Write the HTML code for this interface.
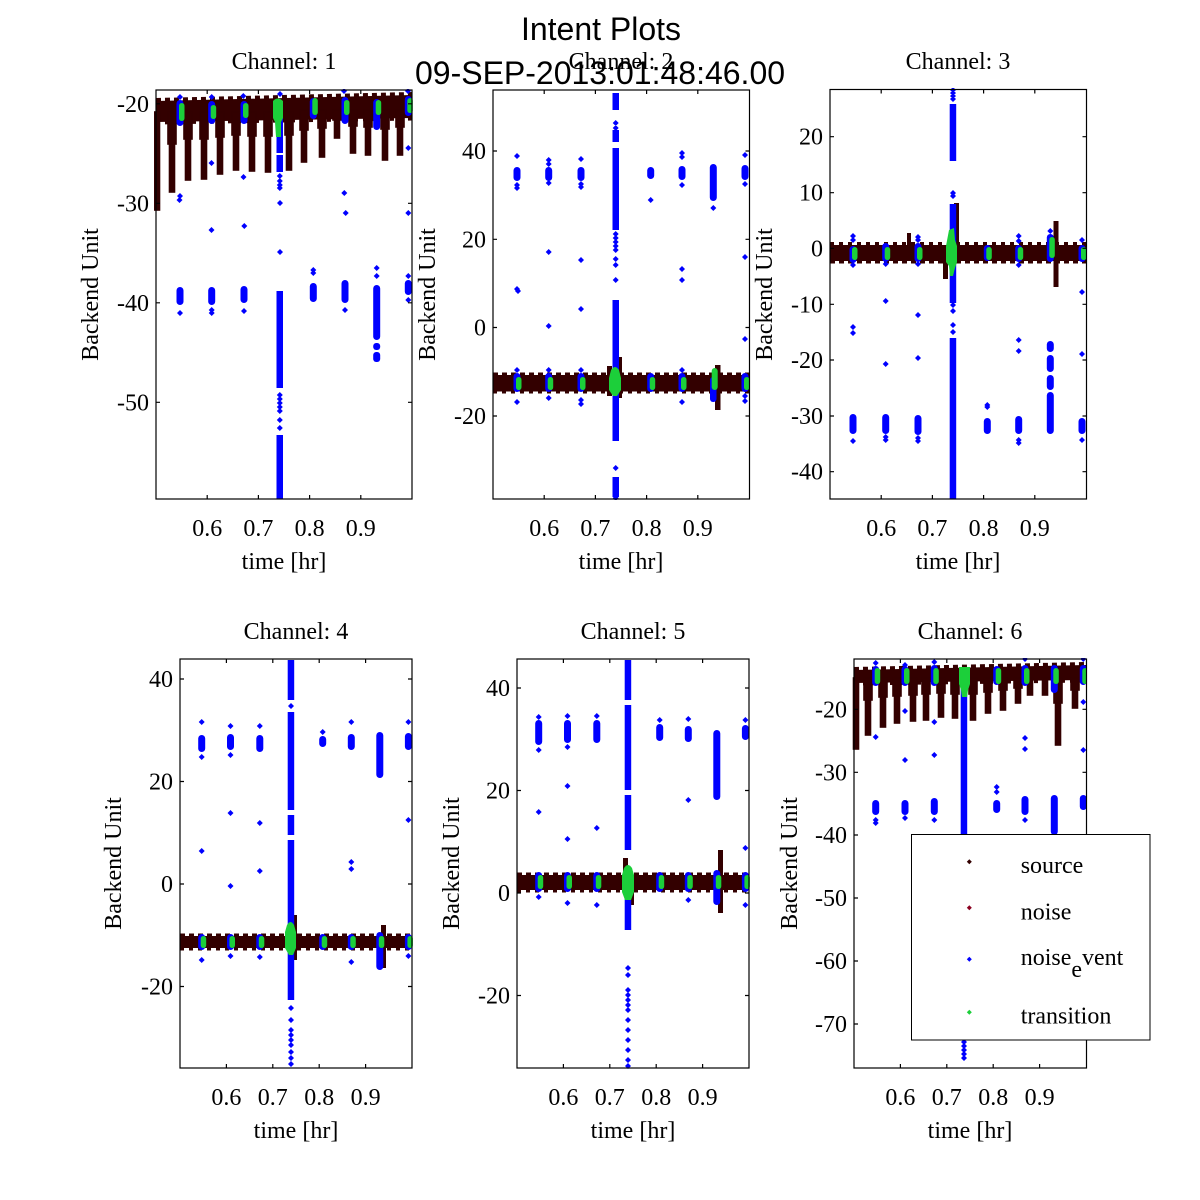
<!DOCTYPE html>
<html><head><meta charset="utf-8"><style>
html,body{margin:0;padding:0;background:#fff;}
svg{display:block;}
.t{font-family:"Liberation Serif",serif;font-size:24px;fill:#000;}
.h{font-family:"Liberation Sans",sans-serif;font-size:32px;fill:#000;}
.br{fill:#330000;}
.bl{fill:#0000ff;}
.gr{fill:#1ccf3a;}
.ax{fill:none;stroke:#000;stroke-width:1.2;}
.sp{fill:#330000;stroke:#330000;stroke-width:1.6;}
</style></head><body>
<svg width="1200" height="1200" viewBox="0 0 1200 1200" xmlns="http://www.w3.org/2000/svg">
<rect width="1200" height="1200" fill="#fff"/>
<defs>
<clipPath id="c1"><rect x="154" y="89" width="260" height="411"/></clipPath>
<clipPath id="c2"><rect x="492" y="88" width="259" height="412"/></clipPath>
<clipPath id="c3"><rect x="829" y="88" width="259" height="412"/></clipPath>
<clipPath id="c4"><rect x="178" y="658" width="235" height="411"/></clipPath>
<clipPath id="c5"><rect x="516" y="658" width="234" height="411"/></clipPath>
<clipPath id="c6"><rect x="852" y="658" width="235" height="411"/></clipPath>
</defs>

<!-- ================= PANEL 1 ================= -->
<g clip-path="url(#c1)">
<polygon class="br" points="156,101 412,95 412,118 156,122"/>
<line x1="156" y1="100" x2="412" y2="94" stroke="#330000" stroke-width="4" stroke-dasharray="5 4"/>
<line x1="156" y1="123" x2="412" y2="119" stroke="#330000" stroke-width="3" stroke-dasharray="4 5"/>
<g class="sp">
<rect x="154.5" y="112" width="5" height="98"/>
<rect x="169.5" y="112" width="5" height="80"/><rect x="168" y="112" width="8" height="32"/>
<rect x="185.5" y="112" width="5" height="68"/><rect x="184" y="112" width="8" height="27"/>
<rect x="201.5" y="112" width="5" height="67"/><rect x="200" y="112" width="8" height="27"/>
<rect x="217.5" y="112" width="5" height="62"/><rect x="216" y="112" width="8" height="25"/>
<rect x="233.5" y="112" width="5" height="58"/><rect x="232" y="112" width="8" height="23"/>
<rect x="249.5" y="112" width="5" height="59"/><rect x="248" y="112" width="8" height="24"/>
<rect x="265.5" y="112" width="5" height="60"/><rect x="264" y="112" width="8" height="24"/>
<rect x="286.5" y="112" width="5" height="58"/><rect x="285" y="112" width="8" height="23"/>
<rect x="301.5" y="110" width="5" height="52"/><rect x="300" y="110" width="8" height="20"/>
<rect x="319.5" y="110" width="5" height="47"/><rect x="318" y="110" width="8" height="18"/>
<rect x="334.5" y="110" width="5" height="28"/><rect x="333" y="110" width="8" height="10"/>
<rect x="350.5" y="110" width="5" height="43"/><rect x="349" y="110" width="8" height="16"/>
<rect x="365.5" y="110" width="5" height="45"/><rect x="364" y="110" width="8" height="17"/>
<rect x="382.5" y="110" width="5" height="50"/><rect x="381" y="110" width="8" height="19"/>
<rect x="397.5" y="110" width="5" height="45"/><rect x="396" y="110" width="8" height="17"/>
</g>
<g class="bl">
<rect x="176.5" y="100" width="7" height="26" rx="3.5"/>
<rect x="208.2" y="101" width="7" height="23" rx="3.5"/>
<rect x="240.5" y="101" width="7" height="23" rx="3.5"/>
<rect x="309.8" y="98" width="7" height="21" rx="3.5"/>
<rect x="341.5" y="97" width="7" height="27" rx="3.5"/>
<rect x="373.2" y="99" width="7" height="31" rx="3.5"/>
<rect x="404.8" y="96" width="7" height="20" rx="3.5"/>
<rect x="276.5" y="103" width="6.5" height="50"/>
<rect x="276.5" y="155" width="6.5" height="17"/>
<rect x="276.5" y="291" width="6.5" height="97"/>
<rect x="276.5" y="435" width="6.5" height="64"/>
<rect x="176.5" y="287" width="7" height="18" rx="3.5"/>
<rect x="208.2" y="287" width="7" height="18" rx="3.5"/>
<rect x="240.5" y="286" width="7" height="17" rx="3.5"/>
<rect x="309.8" y="283" width="7" height="19" rx="3.5"/>
<rect x="341.5" y="280" width="7" height="23" rx="3.5"/>
<rect x="373.2" y="285" width="7" height="55" rx="3.5"/>
<rect x="373.2" y="343" width="7" height="7" rx="3"/>
<rect x="373.2" y="352" width="7" height="10" rx="3"/>
<rect x="404.8" y="280" width="7" height="15" rx="3.5"/>
<path d="M177,97l3,-3 3,3 -3,3zM208.7,97l3,-3 3,3 -3,3zM240.3,96l3,-3 3,3 -3,3zM277,94l3,-3 3,3 -3,3zM341,91l3,-3 3,3 -3,3zM405,91l3,-3 3,3 -3,3zM177,196l3,-3 3,3 -3,3zM176.5,200l3,-3 3,3 -3,3zM208.5,163l3,-3 3,3 -3,3zM208.5,230l3,-3 3,3 -3,3zM240.5,177l3,-3 3,3 -3,3zM241.3,226l3,-3 3,3 -3,3zM277,203l3,-3 3,3 -3,3zM277,252l3,-3 3,3 -3,3zM310.3,270l3,-3 3,3 -3,3zM310.3,273l3,-3 3,3 -3,3zM341.3,193l3,-3 3,3 -3,3zM342.7,213l3,-3 3,3 -3,3zM373.7,268l3,-3 3,3 -3,3zM373.7,276l3,-3 3,3 -3,3zM405.3,148l3,-3 3,3 -3,3zM405.3,213l3,-3 3,3 -3,3zM405.3,276l3,-3 3,3 -3,3zM177,313l3,-3 3,3 -3,3zM208.7,310l3,-3 3,3 -3,3zM208.7,313l3,-3 3,3 -3,3zM241,311l3,-3 3,3 -3,3zM342,310l3,-3 3,3 -3,3zM405.3,300l3,-3 3,3 -3,3zM276.8,176l3,-3 3,3 -3,3zM276.8,181l3,-3 3,3 -3,3zM276.8,185l3,-3 3,3 -3,3zM276.8,188l3,-3 3,3 -3,3zM276.8,395l3,-3 3,3 -3,3zM276.8,399l3,-3 3,3 -3,3zM276.8,403l3,-3 3,3 -3,3zM276.8,407l3,-3 3,3 -3,3zM276.8,411l3,-3 3,3 -3,3zM276.8,420l3,-3 3,3 -3,3zM276.8,428l3,-3 3,3 -3,3z"/>
</g>
<g class="gr">
<rect x="179" y="103" width="5.5" height="18" rx="2.75"/>
<rect x="210.7" y="105" width="5.5" height="14" rx="2.75"/>
<rect x="243" y="103" width="5.5" height="15" rx="2.75"/>
<rect x="312.3" y="98" width="5.5" height="17" rx="2.75"/>
<rect x="344" y="100" width="5.5" height="15" rx="2.75"/>
<rect x="375.7" y="100" width="5.5" height="15" rx="2.75"/>
<rect x="407.3" y="98" width="5.5" height="15" rx="2.75"/>
<path d="M273,101 Q277.5,96 283,101 L283,118 L281,122 L281,137 L276,137 L275,122 L273,118 Z"/>
</g>
</g>
<rect class="ax" x="156" y="90" width="256" height="409"/>
<path class="ax" d="M207.2,499v-4M258.4,499v-4M309.6,499v-4M360.8,499v-4M207.2,90v4M258.4,90v4M309.6,90v4M360.8,90v4M156,103.8h4M156,203.3h4M156,302.8h4M156,402.3h4M412,103.8h-4M412,203.3h-4M412,302.8h-4M412,402.3h-4"/>
<g class="t" text-anchor="end">
<text x="149" y="111.8">-20</text><text x="149" y="211.3">-30</text><text x="149" y="310.8">-40</text><text x="149" y="410.3">-50</text>
</g>
<g class="t" text-anchor="middle">
<text x="207.2" y="536">0.6</text><text x="258.4" y="536">0.7</text><text x="309.6" y="536">0.8</text><text x="360.8" y="536">0.9</text>
<text x="284" y="569">time [hr]</text>
<text x="284" y="69">Channel: 1</text>
<text transform="translate(98,294.5) rotate(-90)">Backend Unit</text>
</g>

<!-- ================= PANEL 2 ================= -->
<g clip-path="url(#c2)">
<rect class="br" x="493" y="375" width="257" height="16.5"/>
<line x1="493" y1="374" x2="750" y2="374" stroke="#330000" stroke-width="3" stroke-dasharray="5 4"/>
<line x1="493" y1="392" x2="750" y2="392" stroke="#330000" stroke-width="3" stroke-dasharray="4 5"/>
<g class="br">
<rect x="607" y="366" width="5" height="30"/>
<rect x="617" y="357" width="5" height="41"/>
<rect x="715" y="365" width="5.5" height="45"/>
</g>
<g class="bl">
<rect x="513.5" y="373" width="7" height="19" rx="3.5"/>
<rect x="545.2" y="373" width="7" height="19" rx="3.5"/>
<rect x="577.5" y="373" width="7" height="19" rx="3.5"/>
<rect x="647.2" y="373" width="7" height="19" rx="3.5"/>
<rect x="678.5" y="373" width="7" height="19" rx="3.5"/>
<rect x="741.5" y="373" width="7" height="19" rx="3.5"/>
<rect x="710" y="377" width="6.5" height="25" rx="3"/>
<rect x="513.5" y="167" width="7" height="14" rx="3.5"/>
<rect x="545.2" y="167" width="7" height="14" rx="3.5"/>
<rect x="577.5" y="167" width="7" height="14" rx="3.5"/>
<rect x="647.2" y="167" width="7" height="12" rx="3.5"/>
<rect x="678.5" y="166" width="7" height="14" rx="3.5"/>
<rect x="709.8" y="164" width="7" height="37" rx="3.5"/>
<rect x="741.5" y="165" width="7" height="15" rx="3.5"/>
<rect x="612.5" y="93" width="6.5" height="17"/>
<rect x="612.5" y="130" width="6.5" height="12"/>
<rect x="612.5" y="148" width="6.5" height="82"/>
<rect x="612.5" y="300" width="6.5" height="141"/>
<rect x="612.5" y="477" width="6.5" height="20"/>
<path d="M514,156l3,-3 3,3 -3,3zM514,185l3,-3 3,3 -3,3zM514,188l3,-3 3,3 -3,3zM545.7,160l3,-3 3,3 -3,3zM545.7,164l3,-3 3,3 -3,3zM545.7,183l3,-3 3,3 -3,3zM578,159l3,-3 3,3 -3,3zM578,184l3,-3 3,3 -3,3zM578,187l3,-3 3,3 -3,3zM647.7,200l3,-3 3,3 -3,3zM679,153l3,-3 3,3 -3,3zM679,157l3,-3 3,3 -3,3zM679,185l3,-3 3,3 -3,3zM710.3,208l3,-3 3,3 -3,3zM742,155l3,-3 3,3 -3,3zM742,184l3,-3 3,3 -3,3zM514,289l3,-3 3,3 -3,3zM515,291l3,-3 3,3 -3,3zM545.7,252l3,-3 3,3 -3,3zM545.7,326l3,-3 3,3 -3,3zM578,260l3,-3 3,3 -3,3zM578,309l3,-3 3,3 -3,3zM679,269l3,-3 3,3 -3,3zM679,280l3,-3 3,3 -3,3zM742,257l3,-3 3,3 -3,3zM742,339l3,-3 3,3 -3,3zM514,402l3,-3 3,3 -3,3zM545.7,398l3,-3 3,3 -3,3zM578,400l3,-3 3,3 -3,3zM578,404l3,-3 3,3 -3,3zM679,402l3,-3 3,3 -3,3zM742,396l3,-3 3,3 -3,3zM742,401l3,-3 3,3 -3,3zM514,370l3,-3 3,3 -3,3zM545.7,370l3,-3 3,3 -3,3zM578,370l3,-3 3,3 -3,3zM679,370l3,-3 3,3 -3,3zM612.7,123l3,-3 3,3 -3,3zM612.7,128l3,-3 3,3 -3,3zM612.7,234l3,-3 3,3 -3,3zM612.7,238l3,-3 3,3 -3,3zM612.7,242l3,-3 3,3 -3,3zM612.7,246l3,-3 3,3 -3,3zM612.7,250l3,-3 3,3 -3,3zM612.7,259l3,-3 3,3 -3,3zM612.7,265l3,-3 3,3 -3,3zM612.7,280l3,-3 3,3 -3,3zM612.7,468l3,-3 3,3 -3,3zM612.7,498l3,-3 3,3 -3,3z"/>
</g>
<g class="gr">
<rect x="516" y="377" width="5.5" height="13" rx="2.75"/>
<rect x="547.7" y="377" width="5.5" height="13" rx="2.75"/>
<rect x="580" y="377" width="5.5" height="13" rx="2.75"/>
<rect x="649.7" y="377" width="5.5" height="13" rx="2.75"/>
<rect x="681" y="377" width="5.5" height="13" rx="2.75"/>
<rect x="744" y="377" width="5.5" height="13" rx="2.75"/>
<rect x="711.7" y="368" width="6" height="22" rx="3"/>
<path d="M611,370 Q615,364 619,370 L621,378 L621,390 L617,396 L613,396 L609,390 L609,378 Z"/>
</g>
</g>
<rect class="ax" x="493" y="90" width="256.5" height="409"/>
<path class="ax" d="M544.2,499v-4M595.4,499v-4M646.6,499v-4M697.8,499v-4M544.2,90v4M595.4,90v4M646.6,90v4M697.8,90v4M493,151h4M493,239.3h4M493,327.5h4M493,416h4M749.5,151h-4M749.5,239.3h-4M749.5,327.5h-4M749.5,416h-4"/>
<g class="t" text-anchor="end">
<text x="486" y="159">40</text><text x="486" y="247.3">20</text><text x="486" y="335.5">0</text><text x="486" y="424">-20</text>
</g>
<g class="t" text-anchor="middle">
<text x="544.2" y="536">0.6</text><text x="595.4" y="536">0.7</text><text x="646.6" y="536">0.8</text><text x="697.8" y="536">0.9</text>
<text x="621" y="569">time [hr]</text>
<text x="621" y="69">Channel: 2</text>
<text transform="translate(435,294.5) rotate(-90)">Backend Unit</text>
</g>

<!-- ================= PANEL 3 ================= -->
<g clip-path="url(#c3)">
<rect class="br" x="830" y="245" width="257" height="16"/>
<line x1="830" y1="244" x2="1087" y2="244" stroke="#330000" stroke-width="4" stroke-dasharray="4 5"/>
<line x1="830" y1="262" x2="1087" y2="262" stroke="#330000" stroke-width="3" stroke-dasharray="5 4"/>
<g class="br">
<rect x="954" y="203" width="5" height="45"/>
<rect x="943" y="255" width="5" height="24"/>
<rect x="907" y="233" width="4" height="12"/>
<rect x="1053.5" y="221" width="5" height="66"/>
</g>
<g class="bl">
<rect x="849.5" y="246" width="7" height="17" rx="3.5"/>
<rect x="882.2" y="243" width="7" height="19" rx="3.5"/>
<rect x="914.5" y="243" width="7" height="19" rx="3.5"/>
<rect x="983.8" y="245" width="7" height="16" rx="3.5"/>
<rect x="1015.2" y="245" width="7" height="17" rx="3.5"/>
<rect x="1046.8" y="234" width="7" height="28" rx="3.5"/>
<rect x="1078.5" y="245" width="7" height="17" rx="3.5"/>
<rect x="849.5" y="414" width="7" height="20" rx="3.5"/>
<rect x="882.2" y="414" width="7" height="20" rx="3.5"/>
<rect x="914.5" y="415" width="7" height="20" rx="3.5"/>
<rect x="983.8" y="418" width="7" height="16" rx="3.5"/>
<rect x="1015.2" y="416" width="7" height="18" rx="3.5"/>
<rect x="1046.8" y="341" width="7" height="11" rx="3.5"/>
<rect x="1046.8" y="355" width="7" height="17" rx="3.5"/>
<rect x="1046.8" y="375" width="7" height="15" rx="3.5"/>
<rect x="1046.8" y="392" width="7" height="42" rx="3.5"/>
<rect x="1078.5" y="418" width="7" height="16" rx="3.5"/>
<rect x="949.7" y="104" width="6.5" height="57"/>
<rect x="949.7" y="204" width="6.5" height="99"/>
<rect x="949.7" y="338" width="6.5" height="161"/>
<path d="M850,236l3,-3 3,3 -3,3zM850,240l3,-3 3,3 -3,3zM915,237l3,-3 3,3 -3,3zM915,240l3,-3 3,3 -3,3zM1015.7,236l3,-3 3,3 -3,3zM1015.7,241l3,-3 3,3 -3,3zM1047.3,231l3,-3 3,3 -3,3zM1079,240l3,-3 3,3 -3,3zM850,265l3,-3 3,3 -3,3zM882.7,264l3,-3 3,3 -3,3zM915,264l3,-3 3,3 -3,3zM1015.7,265l3,-3 3,3 -3,3zM850,327l3,-3 3,3 -3,3zM850,333l3,-3 3,3 -3,3zM882.7,301l3,-3 3,3 -3,3zM882.7,364l3,-3 3,3 -3,3zM915,315l3,-3 3,3 -3,3zM915,358l3,-3 3,3 -3,3zM1015.7,340l3,-3 3,3 -3,3zM1015.7,351l3,-3 3,3 -3,3zM1079,292l3,-3 3,3 -3,3zM1079,354l3,-3 3,3 -3,3zM850,441l3,-3 3,3 -3,3zM882.7,437l3,-3 3,3 -3,3zM882.7,440l3,-3 3,3 -3,3zM915,438l3,-3 3,3 -3,3zM915,441l3,-3 3,3 -3,3zM984.3,405l3,-3 3,3 -3,3zM984.3,407l3,-3 3,3 -3,3zM1015.7,440l3,-3 3,3 -3,3zM1015.7,443l3,-3 3,3 -3,3zM1079,440l3,-3 3,3 -3,3zM950,90l3,-3 3,3 -3,3zM950,93l3,-3 3,3 -3,3zM950,96l3,-3 3,3 -3,3zM950,99l3,-3 3,3 -3,3zM950,193l3,-3 3,3 -3,3zM950,196l3,-3 3,3 -3,3zM950,305l3,-3 3,3 -3,3zM950,311l3,-3 3,3 -3,3zM950,325l3,-3 3,3 -3,3zM950,332l3,-3 3,3 -3,3z"/>
</g>
<g class="gr">
<rect x="852" y="247" width="5.5" height="13" rx="2.75"/>
<rect x="884.7" y="247" width="5.5" height="13" rx="2.75"/>
<rect x="917" y="247" width="5.5" height="13" rx="2.75"/>
<rect x="986.3" y="247" width="5.5" height="13" rx="2.75"/>
<rect x="1017.7" y="247" width="5.5" height="13" rx="2.75"/>
<rect x="1049.3" y="237" width="5.5" height="21" rx="2.75"/>
<rect x="1081" y="247" width="5.5" height="13" rx="2.75"/>
<path d="M949,230 L954,228 L955,240 L957,246 L957,262 L955,268 L953,276 L950,276 L949,266 L946,262 L946,246 Z"/>
</g>
</g>
<rect class="ax" x="830" y="89.5" width="256.5" height="409.5"/>
<path class="ax" d="M881.2,499v-4M932.4,499v-4M983.6,499v-4M1034.8,499v-4M881.2,89.5v4M932.4,89.5v4M983.6,89.5v4M1034.8,89.5v4M830,136.7h4M830,192.7h4M830,248.3h4M830,304.3h4M830,360h4M830,416h4M830,471.7h4M1086.5,136.7h-4M1086.5,192.7h-4M1086.5,248.3h-4M1086.5,304.3h-4M1086.5,360h-4M1086.5,416h-4M1086.5,471.7h-4"/>
<g class="t" text-anchor="end">
<text x="823" y="144.7">20</text><text x="823" y="200.7">10</text><text x="823" y="256.3">0</text><text x="823" y="312.3">-10</text><text x="823" y="368">-20</text><text x="823" y="424">-30</text><text x="823" y="479.7">-40</text>
</g>
<g class="t" text-anchor="middle">
<text x="881.2" y="536">0.6</text><text x="932.4" y="536">0.7</text><text x="983.6" y="536">0.8</text><text x="1034.8" y="536">0.9</text>
<text x="958" y="569">time [hr]</text>
<text x="958" y="69">Channel: 3</text>
<text transform="translate(772,294.5) rotate(-90)">Backend Unit</text>
</g>

<!-- ================= PANEL 4 ================= -->
<g clip-path="url(#c4)">
<rect class="br" x="180" y="936" width="232" height="12"/>
<line x1="180" y1="935" x2="412" y2="935" stroke="#330000" stroke-width="3" stroke-dasharray="5 4"/>
<line x1="180" y1="949" x2="412" y2="949" stroke="#330000" stroke-width="3" stroke-dasharray="4 5"/>
<g class="br">
<rect x="292" y="915" width="5" height="45"/>
<rect x="381" y="925" width="5" height="43"/>
</g>
<g class="bl">
<rect x="198.2" y="934" width="7" height="16" rx="3.5"/>
<rect x="227" y="934" width="7" height="16" rx="3.5"/>
<rect x="256.3" y="934" width="7" height="16" rx="3.5"/>
<rect x="319.2" y="934" width="7" height="16" rx="3.5"/>
<rect x="347.8" y="934" width="7" height="16" rx="3.5"/>
<rect x="404.9" y="934" width="7" height="16" rx="3.5"/>
<rect x="376.3" y="932" width="7" height="38" rx="3.5"/>
<rect x="198.2" y="735" width="7" height="17" rx="3.5"/>
<rect x="227" y="734" width="7" height="16" rx="3.5"/>
<rect x="256.3" y="735" width="7" height="17" rx="3.5"/>
<rect x="319.2" y="736" width="7" height="11" rx="3.5"/>
<rect x="347.8" y="734" width="7" height="16" rx="3.5"/>
<rect x="376.3" y="732" width="7" height="46" rx="3.5"/>
<rect x="404.9" y="733" width="7" height="17" rx="3.5"/>
<rect x="287.7" y="660" width="6.5" height="40"/>
<rect x="287.7" y="712" width="6.5" height="98"/>
<rect x="287.7" y="815" width="6.5" height="20"/>
<rect x="287.7" y="840" width="6.5" height="160"/>
<path d="M198.7,722l3,-3 3,3 -3,3zM227.5,726l3,-3 3,3 -3,3zM256.8,726l3,-3 3,3 -3,3zM319.7,732l3,-3 3,3 -3,3zM348.3,722l3,-3 3,3 -3,3zM405.4,722l3,-3 3,3 -3,3zM198.7,757l3,-3 3,3 -3,3zM227.5,755l3,-3 3,3 -3,3zM198.7,851l3,-3 3,3 -3,3zM227.5,813l3,-3 3,3 -3,3zM227.5,886l3,-3 3,3 -3,3zM256.8,823l3,-3 3,3 -3,3zM256.8,871l3,-3 3,3 -3,3zM348.3,862l3,-3 3,3 -3,3zM348.3,869l3,-3 3,3 -3,3zM405.4,820l3,-3 3,3 -3,3zM198.7,960l3,-3 3,3 -3,3zM227.5,956l3,-3 3,3 -3,3zM256.8,957l3,-3 3,3 -3,3zM348.3,962l3,-3 3,3 -3,3zM405.4,956l3,-3 3,3 -3,3zM288,706l3,-3 3,3 -3,3zM288,1008l3,-3 3,3 -3,3zM288,1020l3,-3 3,3 -3,3zM288,1030l3,-3 3,3 -3,3zM288,1035l3,-3 3,3 -3,3zM288,1040l3,-3 3,3 -3,3zM288,1045l3,-3 3,3 -3,3zM288,1052l3,-3 3,3 -3,3zM288,1058l3,-3 3,3 -3,3zM288,1064l3,-3 3,3 -3,3z"/>
</g>
<g class="gr">
<rect x="200.7" y="936" width="5.5" height="12" rx="2.75"/>
<rect x="229.5" y="936" width="5.5" height="12" rx="2.75"/>
<rect x="258.8" y="936" width="5.5" height="12" rx="2.75"/>
<rect x="321.7" y="936" width="5.5" height="12" rx="2.75"/>
<rect x="350.3" y="936" width="5.5" height="12" rx="2.75"/>
<rect x="378.8" y="936" width="5.5" height="12" rx="2.75"/>
<rect x="407.4" y="936" width="5.5" height="12" rx="2.75"/>
<path d="M287,925 Q290.5,919 294,925 L296,932 L296,948 L293,955 L289,955 L285,948 L285,932 Z"/>
</g>
</g>
<rect class="ax" x="180" y="659" width="232" height="409"/>
<path class="ax" d="M226.4,1068v-4M272.8,1068v-4M319.2,1068v-4M365.6,1068v-4M226.4,659v4M272.8,659v4M319.2,659v4M365.6,659v4M180,679h4M180,781.5h4M180,884h4M180,986.5h4M412,679h-4M412,781.5h-4M412,884h-4M412,986.5h-4"/>
<g class="t" text-anchor="end">
<text x="173" y="687">40</text><text x="173" y="789.5">20</text><text x="173" y="892">0</text><text x="173" y="994.5">-20</text>
</g>
<g class="t" text-anchor="middle">
<text x="226.4" y="1105">0.6</text><text x="272.8" y="1105">0.7</text><text x="319.2" y="1105">0.8</text><text x="365.6" y="1105">0.9</text>
<text x="296" y="1138">time [hr]</text>
<text x="296" y="639">Channel: 4</text>
<text transform="translate(121,863.5) rotate(-90)">Backend Unit</text>
</g>

<!-- ================= PANEL 5 ================= -->
<g clip-path="url(#c5)">
<rect class="br" x="517" y="875" width="232" height="15"/>
<line x1="517" y1="874" x2="749" y2="874" stroke="#330000" stroke-width="3" stroke-dasharray="5 4"/>
<line x1="517" y1="891" x2="749" y2="891" stroke="#330000" stroke-width="3" stroke-dasharray="4 5"/>
<g class="br">
<rect x="623" y="858" width="5" height="30"/>
<rect x="629" y="878" width="5" height="27"/>
<rect x="718" y="850" width="5" height="63"/>
</g>
<g class="bl">
<rect x="535.2" y="872" width="7" height="20" rx="3.5"/>
<rect x="564" y="872" width="7" height="20" rx="3.5"/>
<rect x="593.3" y="872" width="7" height="20" rx="3.5"/>
<rect x="656.2" y="872" width="7" height="20" rx="3.5"/>
<rect x="684.8" y="872" width="7" height="20" rx="3.5"/>
<rect x="741.9" y="872" width="7" height="20" rx="3.5"/>
<rect x="713.3" y="870" width="7" height="35" rx="3.5"/>
<rect x="535.2" y="720" width="7" height="25" rx="3.5"/>
<rect x="564" y="720" width="7" height="23" rx="3.5"/>
<rect x="593.3" y="720" width="7" height="23" rx="3.5"/>
<rect x="656.2" y="724" width="7" height="17" rx="3.5"/>
<rect x="684.8" y="726" width="7" height="16" rx="3.5"/>
<rect x="713.3" y="730" width="7" height="70" rx="3.5"/>
<rect x="741.9" y="725" width="7" height="15" rx="3.5"/>
<rect x="624.7" y="660" width="6.5" height="40"/>
<rect x="624.7" y="705" width="6.5" height="85"/>
<rect x="624.7" y="795" width="6.5" height="55"/>
<rect x="624.7" y="893" width="6.5" height="37"/>
<path d="M535.7,717l3,-3 3,3 -3,3zM564.5,716l3,-3 3,3 -3,3zM593.8,716l3,-3 3,3 -3,3zM656.7,720l3,-3 3,3 -3,3zM685.3,719l3,-3 3,3 -3,3zM742.4,720l3,-3 3,3 -3,3zM535.7,750l3,-3 3,3 -3,3zM564.5,747l3,-3 3,3 -3,3zM535.7,812l3,-3 3,3 -3,3zM564.5,786l3,-3 3,3 -3,3zM564.5,839l3,-3 3,3 -3,3zM593.8,828l3,-3 3,3 -3,3zM685.3,800l3,-3 3,3 -3,3zM742.4,848l3,-3 3,3 -3,3zM535.7,897l3,-3 3,3 -3,3zM564.5,903l3,-3 3,3 -3,3zM593.8,905l3,-3 3,3 -3,3zM685.3,900l3,-3 3,3 -3,3zM742.4,905l3,-3 3,3 -3,3zM625,968l3,-3 3,3 -3,3zM625,975l3,-3 3,3 -3,3zM625,990l3,-3 3,3 -3,3zM625,995l3,-3 3,3 -3,3zM625,1000l3,-3 3,3 -3,3zM625,1005l3,-3 3,3 -3,3zM625,1010l3,-3 3,3 -3,3zM625,1020l3,-3 3,3 -3,3zM625,1030l3,-3 3,3 -3,3zM625,1040l3,-3 3,3 -3,3zM625,1050l3,-3 3,3 -3,3zM625,1060l3,-3 3,3 -3,3zM625,1066l3,-3 3,3 -3,3z"/>
</g>
<g class="gr">
<rect x="537.7" y="875" width="5.5" height="14" rx="2.75"/>
<rect x="566.5" y="875" width="5.5" height="14" rx="2.75"/>
<rect x="595.8" y="875" width="5.5" height="14" rx="2.75"/>
<rect x="658.7" y="875" width="5.5" height="14" rx="2.75"/>
<rect x="687.3" y="875" width="5.5" height="14" rx="2.75"/>
<rect x="715.8" y="875" width="5.5" height="14" rx="2.75"/>
<rect x="744.4" y="875" width="5.5" height="14" rx="2.75"/>
<path d="M624,868 Q628,862 632,868 L634,875 L634,892 L631,900 L625,900 L622,892 L622,875 Z"/>
</g>
</g>
<rect class="ax" x="517" y="659" width="232" height="409"/>
<path class="ax" d="M563.4,1068v-4M609.8,1068v-4M656.2,1068v-4M702.6,1068v-4M563.4,659v4M609.8,659v4M656.2,659v4M702.6,659v4M517,688h4M517,790.5h4M517,893h4M517,995.5h4M749,688h-4M749,790.5h-4M749,893h-4M749,995.5h-4"/>
<g class="t" text-anchor="end">
<text x="510" y="696">40</text><text x="510" y="798.5">20</text><text x="510" y="901">0</text><text x="510" y="1003.5">-20</text>
</g>
<g class="t" text-anchor="middle">
<text x="563.4" y="1105">0.6</text><text x="609.8" y="1105">0.7</text><text x="656.2" y="1105">0.8</text><text x="702.6" y="1105">0.9</text>
<text x="633" y="1138">time [hr]</text>
<text x="633" y="639">Channel: 5</text>
<text transform="translate(459,863.5) rotate(-90)">Backend Unit</text>
</g>

<!-- ================= PANEL 6 ================= -->
<g clip-path="url(#c6)">
<polygon class="br" points="854,670 1086,665 1086,680 854,683"/>
<line x1="854" y1="669" x2="1086" y2="664" stroke="#330000" stroke-width="4" stroke-dasharray="5 4"/>
<line x1="854" y1="684" x2="1086" y2="681" stroke="#330000" stroke-width="3" stroke-dasharray="4 5"/>
<g class="sp">
<rect x="853.5" y="678" width="5" height="71"/>
<rect x="865.5" y="678" width="5" height="57"/><rect x="864" y="678" width="8" height="22"/>
<rect x="880.5" y="678" width="5" height="49"/><rect x="879" y="678" width="8" height="19"/>
<rect x="894.5" y="678" width="5" height="45"/><rect x="893" y="678" width="8" height="18"/>
<rect x="910.5" y="678" width="5" height="43"/><rect x="909" y="678" width="8" height="17"/>
<rect x="923.5" y="678" width="5" height="42"/><rect x="922" y="678" width="8" height="16"/>
<rect x="938.5" y="678" width="5" height="39"/><rect x="937" y="678" width="8" height="15"/>
<rect x="952.5" y="678" width="5" height="40"/><rect x="951" y="678" width="8" height="16"/>
<rect x="970.5" y="678" width="5" height="42"/><rect x="969" y="678" width="8" height="16"/>
<rect x="985.5" y="678" width="5" height="35"/><rect x="984" y="678" width="8" height="14"/>
<rect x="1000.5" y="678" width="5" height="32"/><rect x="999" y="678" width="8" height="12"/>
<rect x="1015.5" y="678" width="5" height="25"/><rect x="1014" y="678" width="8" height="10"/>
<rect x="1027.5" y="678" width="5" height="17"/>
<rect x="1042.5" y="678" width="5" height="17"/>
<rect x="1055.5" y="678" width="5" height="67"/><rect x="1054" y="678" width="8" height="25"/>
<rect x="1072.5" y="678" width="5" height="30"/><rect x="1071" y="678" width="8" height="12"/>
</g>
<g class="bl">
<rect x="872.2" y="666" width="7" height="20" rx="3.5"/>
<rect x="901.5" y="666" width="7" height="20" rx="3.5"/>
<rect x="930.8" y="665" width="7" height="21" rx="3.5"/>
<rect x="993.2" y="666" width="7" height="19" rx="3.5"/>
<rect x="1021.5" y="665" width="7" height="21" rx="3.5"/>
<rect x="1050.8" y="665" width="7" height="28" rx="3.5"/>
<rect x="1079.8" y="665" width="7" height="20" rx="3.5"/>
<rect x="960.7" y="683" width="6.5" height="151"/>
<rect x="872.2" y="800" width="7" height="15" rx="3.5"/>
<rect x="901.5" y="800" width="7" height="15" rx="3.5"/>
<rect x="930.8" y="798" width="7" height="17" rx="3.5"/>
<rect x="993.2" y="800" width="7" height="13" rx="3.5"/>
<rect x="1021.5" y="796" width="7" height="19" rx="3.5"/>
<rect x="1050.8" y="795" width="7" height="40" rx="3.5"/>
<rect x="1079.8" y="795" width="7" height="15" rx="3.5"/>
<path d="M872.7,663l3,-3 3,3 -3,3zM902,665l3,-3 3,3 -3,3zM931.3,662l3,-3 3,3 -3,3zM1022,659l3,-3 3,3 -3,3zM1080.3,659l3,-3 3,3 -3,3zM872.7,820l3,-3 3,3 -3,3zM872.7,823l3,-3 3,3 -3,3zM902,818l3,-3 3,3 -3,3zM931.3,820l3,-3 3,3 -3,3zM993.7,787l3,-3 3,3 -3,3zM993.7,792l3,-3 3,3 -3,3zM1022,820l3,-3 3,3 -3,3zM872.7,737l3,-3 3,3 -3,3zM902,711l3,-3 3,3 -3,3zM902,760l3,-3 3,3 -3,3zM931.3,722l3,-3 3,3 -3,3zM931.3,755l3,-3 3,3 -3,3zM1022,738l3,-3 3,3 -3,3zM1022,749l3,-3 3,3 -3,3zM1080.3,702l3,-3 3,3 -3,3zM1080.3,750l3,-3 3,3 -3,3zM961,1042l3,-3 3,3 -3,3zM961,1046l3,-3 3,3 -3,3zM961,1050l3,-3 3,3 -3,3zM961,1054l3,-3 3,3 -3,3zM961,1058l3,-3 3,3 -3,3z"/>
</g>
<g class="gr">
<rect x="874.7" y="668" width="5.5" height="16" rx="2.75"/>
<rect x="904" y="668" width="5.5" height="16" rx="2.75"/>
<rect x="933.3" y="668" width="5.5" height="16" rx="2.75"/>
<rect x="995.7" y="668" width="5.5" height="16" rx="2.75"/>
<rect x="1024" y="668" width="5.5" height="16" rx="2.75"/>
<rect x="1053.3" y="668" width="5.5" height="16" rx="2.75"/>
<rect x="1082.3" y="668" width="5.5" height="16" rx="2.75"/>
<path d="M959,667 L970,667 L970,684 L968,690 L967,697 L962,697 L961,690 L959,684 Z"/>
</g>
</g>
<rect class="ax" x="854" y="659" width="232.5" height="409"/>
<path class="ax" d="M900.4,1068v-4M946.8,1068v-4M993.2,1068v-4M1039.6,1068v-4M900.4,659v4M946.8,659v4M993.2,659v4M1039.6,659v4M854,709.3h4M854,772.3h4M854,835h4M854,898h4M854,961h4M854,1024h4M1086.5,709.3h-4M1086.5,772.3h-4M1086.5,835h-4M1086.5,898h-4M1086.5,961h-4M1086.5,1024h-4"/>
<g class="t" text-anchor="end">
<text x="847" y="717.3">-20</text><text x="847" y="780.3">-30</text><text x="847" y="843">-40</text><text x="847" y="906">-50</text><text x="847" y="969">-60</text><text x="847" y="1032">-70</text>
</g>
<g class="t" text-anchor="middle">
<text x="900.4" y="1105">0.6</text><text x="946.8" y="1105">0.7</text><text x="993.2" y="1105">0.8</text><text x="1039.6" y="1105">0.9</text>
<text x="970" y="1138">time [hr]</text>
<text x="970" y="639">Channel: 6</text>
<text transform="translate(797,863.5) rotate(-90)">Backend Unit</text>
</g>

<!-- legend -->
<rect x="911.5" y="834.5" width="238.5" height="205.5" fill="#fff" stroke="#000" stroke-width="1"/>
<path d="M966.8,861.7l2.5,-2.5 2.5,2.5 -2.5,2.5z" fill="#330000"/>
<path d="M966.8,907.7l2.5,-2.5 2.5,2.5 -2.5,2.5z" fill="#8b0020"/>
<path d="M966.8,959.3l2.5,-2.5 2.5,2.5 -2.5,2.5z" fill="#0000ff"/>
<path d="M966.8,1012.3l2.5,-2.5 2.5,2.5 -2.5,2.5z" fill="#1ccf3a"/>
<text class="t" x="1020.7" y="873">source</text>
<text class="t" x="1020.7" y="919.3">noise</text>
<text class="t" x="1020.7" y="965">noise<tspan dy="12">e</tspan><tspan dy="-12">vent</tspan></text>
<text class="t" x="1020.7" y="1023.3">transition</text>

<!-- figure title -->
<text class="h" x="601" y="40" text-anchor="middle">Intent Plots</text>
<text class="h" x="600" y="84" text-anchor="middle">09-SEP-2013:01:48:46.00</text>
</svg>
</body></html>
